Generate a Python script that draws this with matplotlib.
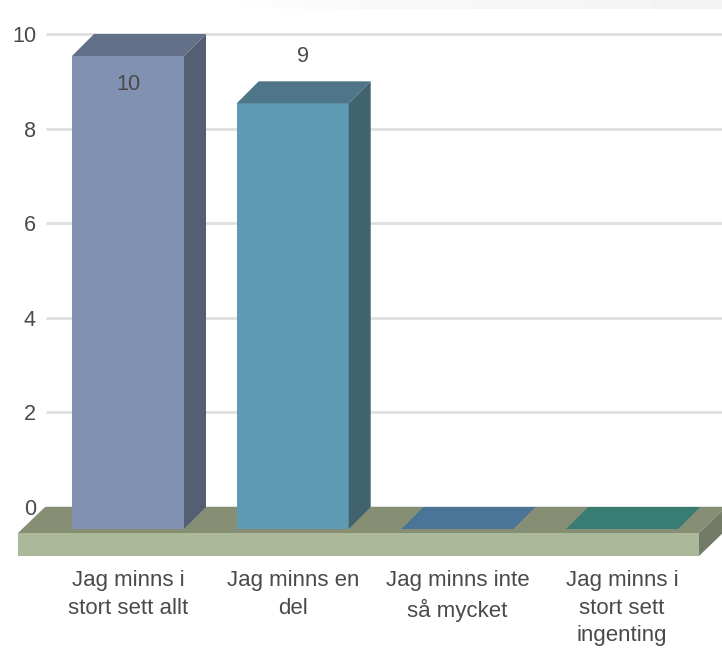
import numpy as np
import matplotlib
matplotlib.use("Agg")
import matplotlib.pyplot as plt
from matplotlib.patches import Polygon

plt.rcParams['font.family'] = ['Liberation Sans', 'DejaVu Sans']

categories = ["Jag minns i\nstort sett allt", "Jag minns en\ndel",
              "Jag minns inte\nså mycket", "Jag minns i\nstort sett\ningenting"]
values = [10, 9, 0, 0]
value_labels = ["10", "9", "", ""]
yticks = [0, 2, 4, 6, 8, 10]

front_colors = ["#8191B2", "#5F9AB3", "#5A8FB8", "#449A8E"]
top_colors = ["#63708A", "#4E7688", "#4A7599", "#387C74"]
side_colors = ["#555F74", "#40636F", "#3E6380", "#2F6A62"]
text_color = "#4A4A4A"

W, H = 722, 656
px_x = 164.7   # pixels per category
px_y = 47.3    # pixels per unit
x0_px, y0_px = 128, 529  # front base of first bar
bar_w = 112 / px_x
dx = 22 / px_x
dy = 22 / px_y

fig = plt.figure(figsize=(W / 100, H / 100), dpi=100)
ax = fig.add_axes([0, 0, 1, 1])
xlim = (-x0_px / px_x, (W - x0_px) / px_x)
ylim = ((y0_px - H) / px_y, y0_px / px_y)

# faint strip along the very top
strip = np.array([[1.0, 0.985, 0.975, 0.97, 0.965, 0.96, 0.955]])
ax.imshow(strip, extent=(xlim[0] + 180 / px_x, xlim[1], ylim[1] - 9 / px_y, ylim[1]),
          cmap="gray", vmin=0, vmax=1, aspect="auto", zorder=0, interpolation="bilinear")

# grid on the back wall
grid_left = xlim[0] + 46 / px_x
for v in yticks:
    ax.plot([grid_left, xlim[1]], [v + dy, v + dy], color="#DEDEDE", lw=1.9, zorder=1,
            solid_capstyle="butt")

# floor plate
fl = xlim[0] + 18 / px_x
fr = xlim[0] + 699 / px_x
ft = -4 / px_y
fb = -27 / px_y
fdx = 27 / px_x
fdy = 26 / px_y
ax.add_patch(Polygon([(fl, ft), (fr, ft), (fr + fdx, ft + fdy), (fl + fdx, ft + fdy)],
                     color="#868E74", lw=0, zorder=2))
ax.add_patch(Polygon([(fr, ft), (fr + fdx, ft + fdy), (fr + fdx, fb + fdy), (fr, fb)],
                     color="#737B66", lw=0, zorder=2))
ax.add_patch(Polygon([(fl, fb), (fr, fb), (fr, ft), (fl, ft)],
                     color="#ABB899", lw=0, zorder=2))

# bars, front face then top and side
x = np.arange(len(categories))
bars = ax.bar(x, values, width=bar_w, color=front_colors, linewidth=0, zorder=3)
for i, b in enumerate(bars):
    l, r = b.get_x(), b.get_x() + b.get_width()
    h = b.get_height()
    ax.add_patch(Polygon([(l, h), (r, h), (r + dx, h + dy), (l + dx, h + dy)],
                         color=top_colors[i], lw=0, zorder=3))
    if h > 0:
        ax.add_patch(Polygon([(r, 0), (r + dx, dy), (r + dx, h + dy), (r, h)],
                             color=side_colors[i], lw=0, zorder=3))

# value labels: first sits inside the bar because it would not fit above
ax.text(x[0], values[0] - 28 / px_y, value_labels[0], ha="center", va="center",
        fontsize=15.6, color=text_color, zorder=4)
ax.text(x[1] + 10 / px_x, values[1] + 47 / px_y, value_labels[1], ha="center", va="center",
        fontsize=15.6, color=text_color, zorder=4)

ax.set_xlim(*xlim)
ax.set_ylim(*ylim)
ax.set_yticks([v + dy for v in yticks])
ax.set_yticklabels([str(v) for v in yticks], fontsize=15.6, color=text_color)
ax.set_xticks(x)
ax.set_xticklabels(categories, fontsize=16, color=text_color, linespacing=1.42)
ax.tick_params(axis="y", length=0, pad=-36 * 0.72)
ax.tick_params(axis="x", length=0, pad=-(H - 570) * 0.72)
for s in ax.spines.values():
    s.set_visible(False)

fig.savefig("out.png", dpi=100)
